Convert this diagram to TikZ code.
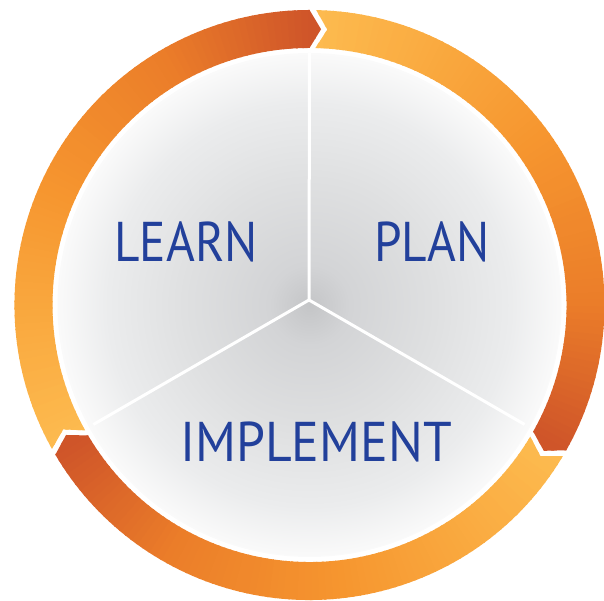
\documentclass[tikz,border=0pt]{standalone}
\usepackage{fontspec}
\setsansfont{PT Sans}
\usetikzlibrary{calc}
\definecolor{ringA}{HTML}{FDBC50}
\definecolor{ringB}{HTML}{F6962F}
\definecolor{ringC}{HTML}{EB7D29}
\definecolor{ringD}{HTML}{CF5529}
\definecolor{discA}{HTML}{C4C5C7}
\definecolor{discB}{HTML}{D3D4D6}
\definecolor{discC}{HTML}{DFE0E1}
\definecolor{discD}{HTML}{EBECED}
\definecolor{discE}{HTML}{FAFAFA}
\definecolor{lblblue}{HTML}{22409B}
\pgfdeclareradialshading{discshade}{\pgfpoint{0bp}{0bp}}{color(0bp)=(discA); color(4bp)=(discB); color(12.5bp)=(discC); color(20bp)=(discD); color(25bp)=(discE); color(50bp)=(discE)}

\begin{document}
\begin{tikzpicture}[x=1pt,y=1pt,
  divider/.style={white, line width=3pt},
  lbl/.style={font=\sffamily\fontsize{56}{60}\selectfont, text=lblblue, xscale=0.88, inner sep=0pt, anchor=base}]
\useasboundingbox (0,0) rectangle (604,601);
\coordinate (o) at (309.5,296);
\coordinate (m) at (309,301);

% shaded disc
\shade[shading=discshade] (o) circle (252);

% dividers
\coordinate (top) at ($(o)+(90:252)$);
\coordinate (left) at ($(m)+(210:249)$);
\coordinate (right) at ($(m)+(330:249)$);
\draw[divider] (m) -- (top);
\draw[divider] (m) -- (left);
\draw[divider] (m) -- (right);

% ring, three arrows
\foreach \s/\e in {210.5/90, 90/-29.5, -29.5/-149.5}{
  \begin{scope}
    \clip ($(o)+(\s-1.3:295)$) arc[start angle=\s-1.3, end angle=\e, radius=295]
      -- ($(o)+(\e-2.4:276)$) -- ($(o)+(\e:257)$)
      arc[start angle=\e, end angle=\s-1.3, radius=257]
      -- ($(o)+(\s-3.7:276)$) -- cycle;
    \foreach \i in {0,...,89}{
      \pgfmathsetmacro\aone{\s+1-(\s-\e+5)*\i/90}
      \pgfmathsetmacro\atwo{\s+1-(\s-\e+5)*(\i+1)/90-0.3}
      \pgfmathsetmacro\tpos{min(max((\s-(\aone+\atwo)/2)/(\s-\e),0),1)}
      \ifdim\tpos pt<0.45pt
        \pgfmathtruncatemacro\pct{\tpos/0.45*100}\colorlet{segc}{ringB!\pct!ringA}
      \else\ifdim\tpos pt<0.75pt
        \pgfmathtruncatemacro\pct{(\tpos-0.45)/0.3*100}\colorlet{segc}{ringC!\pct!ringB}
      \else
        \pgfmathtruncatemacro\pct{(\tpos-0.75)/0.25*100}\colorlet{segc}{ringD!\pct!ringC}
      \fi\fi
      \fill[segc] (o) -- ($(o)+(\aone:310)$) -- ($(o)+(\atwo:310)$) -- cycle;
    }
  \end{scope}
}

% labels
\node[lbl] (learn) at (186,339.5) {LEARN};
\node[lbl] (plan) at (432,339.5) {PLAN};
\node[lbl, xscale=1.05] (implement) at (316,139) {IMPLEMENT};
\end{tikzpicture}
\end{document}
